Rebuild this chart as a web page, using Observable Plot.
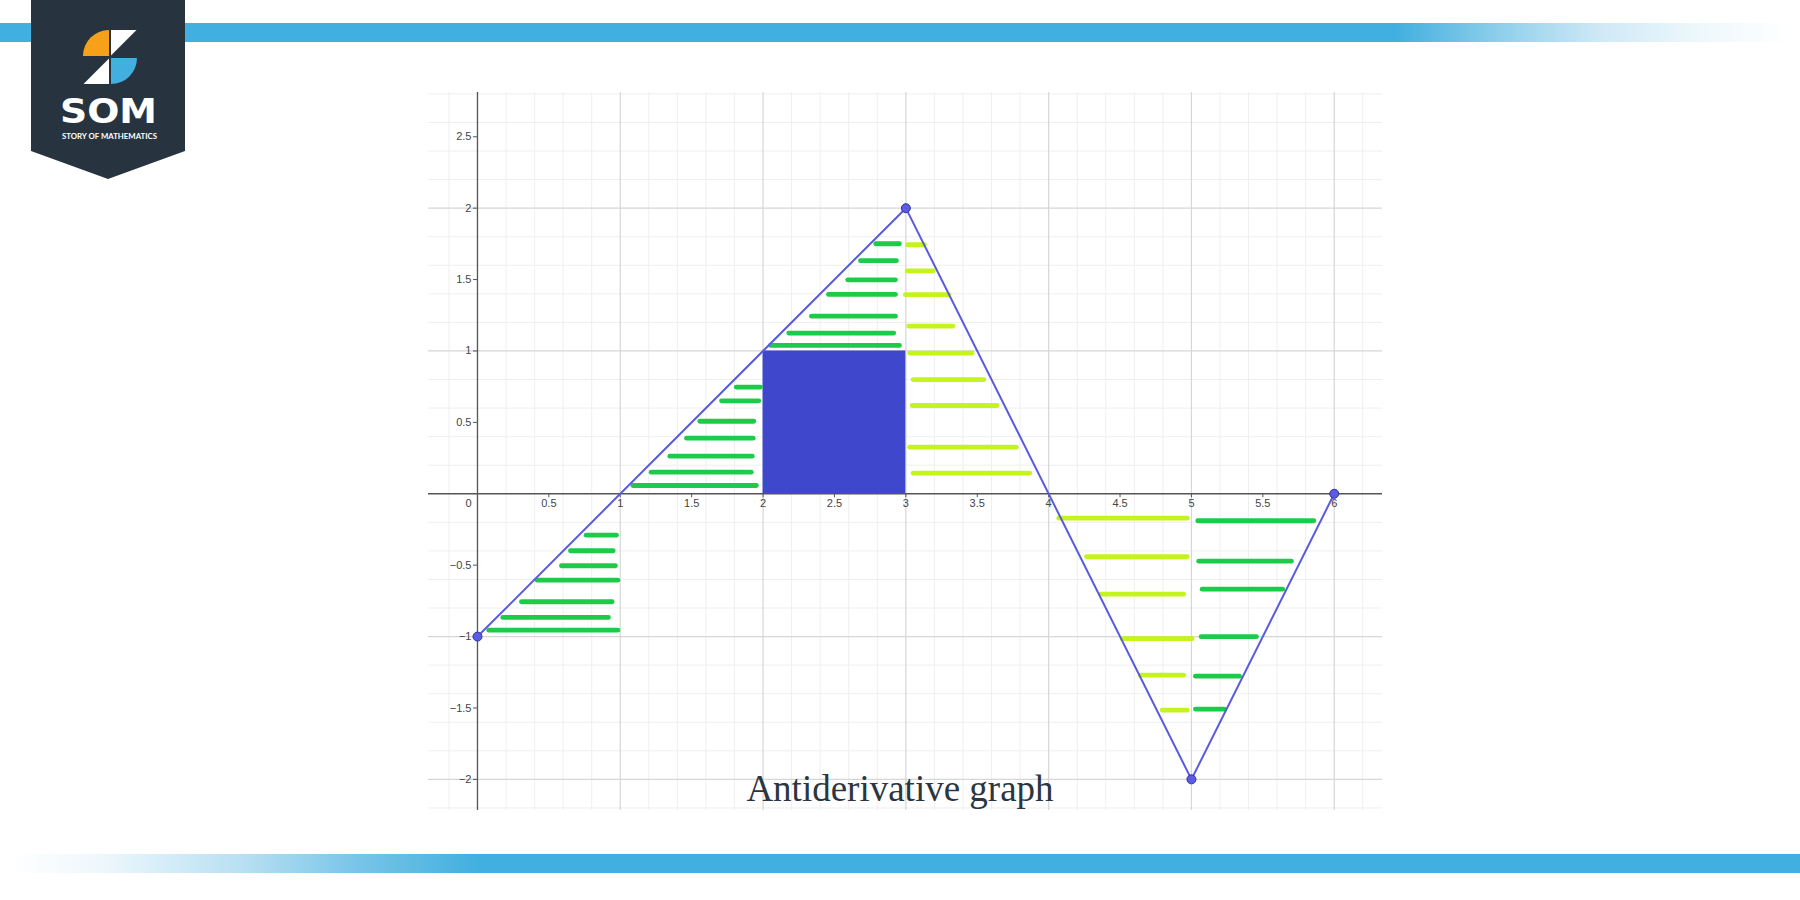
<!DOCTYPE html>
<html>
<head>
<meta charset="utf-8">
<script src="https://cdn.jsdelivr.net/npm/d3@7"></script>
<script src="https://cdn.jsdelivr.net/npm/@observablehq/plot@0.6"></script>
<style>
  html, body { margin: 0; padding: 0; background: #ffffff; }
  #page { position: relative; width: 1800px; height: 900px; overflow: hidden; background: #ffffff; }
  #topbar { position: absolute; left: 0; top: 23px; width: 1800px; height: 19px;
    background: linear-gradient(to right, #41afdf 0px, #41afdf 1395px, #8fcfeb 1500px, #cfe9f6 1600px, #eef8fc 1700px, #ffffff 1790px); }
  #bottombar { position: absolute; left: 0; top: 854px; width: 1800px; height: 19px;
    background: linear-gradient(to right, #ffffff 0px, #ffffff 12px, #eef8fc 100px, #b5def2 250px, #7cc6e8 350px, #41afdf 480px, #41afdf 1800px); }
  #logo { position: absolute; left: 0; top: 0; }
  #chart { position: absolute; left: 428px; top: 92px; }
  #title { position: absolute; left: 0; top: 770px; width: 1800px; text-align: center;
    font-family: "Liberation Serif", "Times New Roman", serif; font-size: 37px; line-height: 37px;
    color: #2b3640; }
</style>
</head>
<body>
<div id="page">
  <div id="topbar"></div>
  <div id="bottombar"></div>
  <svg id="logo" width="220" height="210" viewBox="0 0 220 210">
    <polygon points="31,0 185,0 185,151 108,179 31,151" fill="#27343f"/>
    <path d="M109,56 L83,56 A26,26 0 0 1 109,30 Z" fill="#f7a11a"/>
    <path d="M111,30 L136.5,30 L111,55.5 Z" fill="#ffffff"/>
    <path d="M109,58.5 L109,84 L83.5,84 Z" fill="#ffffff"/>
    <path d="M111,58 L137,58 A26,26 0 0 1 111,84 Z" fill="#41afdf"/>
    <text x="108.5" y="123" text-anchor="middle" fill="#ffffff" font-family="'DejaVu Sans', sans-serif" font-weight="700" font-size="34" textLength="97" lengthAdjust="spacingAndGlyphs">SOM</text>
    <text x="109.5" y="138.5" text-anchor="middle" fill="#ffffff" font-family="Lato, 'Open Sans', sans-serif" font-weight="700" font-size="7" textLength="95" lengthAdjust="spacingAndGlyphs">STORY OF MATHEMATICS</text>
  </svg>
  <div id="chart"></div>
  <div id="title">Antiderivative graph</div>
</div>
<script>
// ---- data ----
const vertexX = [0, 3, 5, 6];
const vertexY = [-1, 2, -2, 0];

const rectX1 = [2];
const rectX2 = [3];
const rectY1 = [0];
const rectY2 = [1];

const greenY  = [0.058, 0.151, 0.263, 0.389, 0.508, 0.651, 0.747,
                 1.039, 1.125, 1.244, 1.396, 1.498, 1.632, 1.751,
                 -0.290, -0.399, -0.504, -0.605, -0.756, -0.866, -0.955,
                 -0.189, -0.472, -0.668, -1.001, -1.277, -1.508];
const greenX1 = [1.088, 1.216, 1.347, 1.464, 1.557, 1.709, 1.812,
                 2.052, 2.180, 2.339, 2.458, 2.593, 2.682, 2.789,
                 0.761, 0.651, 0.588, 0.418, 0.308, 0.177, 0.079,
                 5.044, 5.051, 5.075, 5.068, 5.028, 5.028];
const greenX2 = [1.953, 1.917, 1.924, 1.931, 1.935, 1.970, 1.982,
                 2.955, 2.915, 2.927, 2.927, 2.927, 2.934, 2.955,
                 0.973, 0.950, 0.966, 0.983, 0.943, 0.917, 0.983,
                 5.857, 5.700, 5.639, 5.455, 5.336, 5.231];

const yellowY  = [1.744, 1.561, 1.394, 1.174, 0.985, 0.800, 0.618, 0.326, 0.144,
                  -0.171, -0.441, -0.703, -1.015, -1.270, -1.515];
const yellowX1 = [3.013, 3.009, 2.997, 3.020, 3.027, 3.051, 3.044, 3.027, 3.051,
                  4.071, 4.265, 4.363, 4.515, 4.643, 4.795];
const yellowX2 = [3.130, 3.191, 3.301, 3.329, 3.464, 3.546, 3.639, 3.774, 3.868,
                  4.970, 4.970, 4.946, 5.005, 4.946, 4.970];

// ---- axis ticks / labels ----
const xTickLabels = [0.5, 1, 1.5, 2, 2.5, 3, 3.5, 4, 4.5, 5, 5.5, 6];
const yTickLabels = [2.5, 2, 1.5, 1, 0.5, -0.5, -1, -1.5, -2];
const originLabel = ["0"];
const xMajorGrid = [1, 2, 3, 4, 5, 6];
const yMajorGrid = [-2, -1, 1, 2];
const xMinorGrid = [-0.2, 0.2, 0.4, 0.6, 0.8, 1.2, 1.4, 1.6, 1.8, 2.2, 2.4, 2.6, 2.8,
                    3.2, 3.4, 3.6, 3.8, 4.2, 4.4, 4.6, 4.8, 5.2, 5.4, 5.6, 5.8, 6.2];
const yMinorGrid = [-2.2, -1.8, -1.6, -1.4, -1.2, -0.8, -0.6, -0.4, -0.2,
                    0.2, 0.4, 0.6, 0.8, 1.2, 1.4, 1.6, 1.8, 2.2, 2.4, 2.6, 2.8];
const axisZero = [0];

// ---- tables built from the arrays ----
const vertices = vertexX.map((x, i) => ({x, y: vertexY[i]}));
const rects = rectX1.map((x1, i) => ({x1, x2: rectX2[i], y1: rectY1[i], y2: rectY2[i]}));
const greens = greenY.map((y, i) => ({y, x1: greenX1[i], x2: greenX2[i]}));
const yellows = yellowY.map((y, i) => ({y, x1: yellowX1[i], x2: yellowX2[i]}));

const fmt = d => String(d).replace("-", "\u2212");
const labelFont = "'Liberation Sans', Arial, sans-serif";

const chart = Plot.plot({
  width: 954,
  height: 718,
  margin: 0,
  style: { background: "transparent", overflow: "visible" },
  x: { domain: [-0.343, 6.338], axis: null },
  y: { domain: [-2.218, 2.81], axis: null },
  marks: [
    Plot.ruleX(xMinorGrid, { x: d => d, stroke: "#efefef", strokeWidth: 1 }),
    Plot.ruleY(yMinorGrid, { y: d => d, stroke: "#efefef", strokeWidth: 1 }),
    Plot.ruleX(xMajorGrid, { x: d => d, stroke: "#d6d6d6", strokeWidth: 1.2 }),
    Plot.ruleY(yMajorGrid, { y: d => d, stroke: "#d6d6d6", strokeWidth: 1.2 }),
    Plot.ruleX(axisZero, { x: d => d, stroke: "#555555", strokeWidth: 1.3 }),
    Plot.ruleY(axisZero, { y: d => d, stroke: "#555555", strokeWidth: 1.3 }),
    // small tick marks
    Plot.ruleX(xTickLabels, { x: d => d, y1: 0, y2: 0, insetBottom: -4, stroke: "#555555", strokeWidth: 1 }),
    Plot.ruleY(yTickLabels, { y: d => d, x1: 0, x2: 0, insetLeft: -4, stroke: "#555555", strokeWidth: 1 }),
    // labels
    Plot.text(xTickLabels, { x: d => d, y: 0, text: fmt, dy: 10, fontSize: 11, fill: "#444444", fontFamily: labelFont }),
    Plot.text(originLabel, { x: 0, y: 0, text: d => d, dx: -9, dy: 10, fontSize: 11, fill: "#444444", fontFamily: labelFont }),
    Plot.text(yTickLabels, { x: 0, y: d => d, text: fmt, dx: -6, textAnchor: "end", fontSize: 11, fill: "#444444", fontFamily: labelFont }),
    // blue area
    Plot.rect(rects, { x1: "x1", x2: "x2", y1: "y1", y2: "y2", fill: "#3f48cc" }),
    // hatch strokes
    Plot.link(greens, { x1: "x1", x2: "x2", y1: "y", y2: "y", stroke: "#1ccb48", strokeWidth: 4.8, strokeLinecap: "round" }),
    Plot.link(yellows, { x1: "x1", x2: "x2", y1: "y", y2: "y", stroke: "#c4f41c", strokeWidth: 4.8, strokeLinecap: "round" }),
    // graph
    Plot.line(vertices, { x: "x", y: "y", stroke: "#5a5ae0", strokeWidth: 2 }),
    Plot.dot(vertices, { x: "x", y: "y", r: 4.5, fill: "#5b5be6", stroke: "#33339a", strokeWidth: 1 })
  ]
});
document.getElementById("chart").appendChild(chart);
</script>
</body>
</html>
